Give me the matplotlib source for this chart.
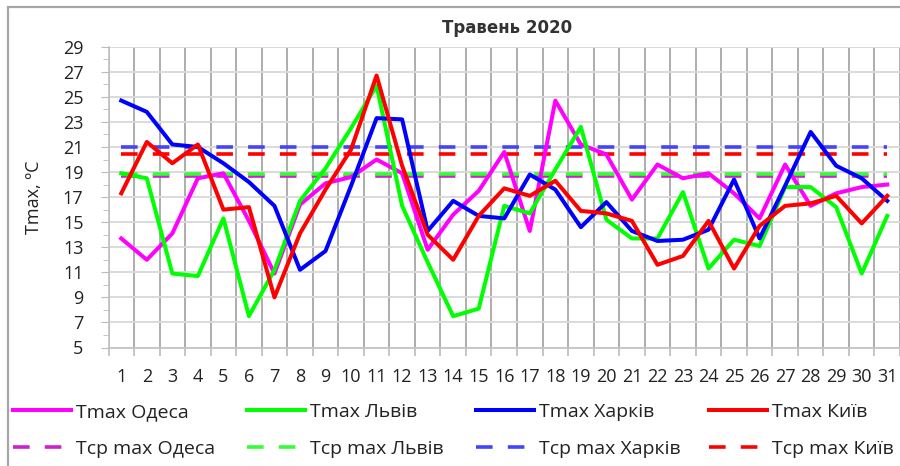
import numpy as np
import matplotlib.pyplot as plt
from matplotlib.ticker import FixedLocator

plt.rcParams['font.family'] = ['Open Sans', 'DejaVu Sans']

days = list(range(1, 32))

# daily maximum temperature, May 2020
odesa = [13.7, 12.0, 14.1, 18.5, 18.9, 15.1, 10.9, 16.4, 18.1, 18.6, 20.0, 18.9, 12.8, 15.6, 17.5, 20.6,
         14.3, 24.7, 21.2, 20.4, 16.8, 19.6, 18.5, 18.9, 17.3, 15.3, 19.6, 16.3, 17.3, 17.8, 18.0]
lviv = [18.9, 18.5, 10.9, 10.7, 15.3, 7.5, 11.2, 16.7, 19.3, 22.5, 25.9, 16.3, 11.8, 7.5, 8.1, 16.3,
        15.7, 19.2, 22.6, 15.2, 13.7, 13.7, 17.4, 11.3, 13.6, 13.1, 17.8, 17.8, 16.2, 10.9, 15.5]
kharkiv = [24.7, 23.8, 21.2, 21.0, 19.7, 18.2, 16.3, 11.2, 12.7, 17.9, 23.3, 23.2, 14.3, 16.7, 15.5, 15.3,
           18.8, 17.6, 14.6, 16.6, 14.3, 13.5, 13.6, 14.4, 18.4, 13.7, 17.9, 22.2, 19.5, 18.5, 16.7]
kyiv = [17.3, 21.4, 19.7, 21.2, 16.0, 16.2, 9.0, 14.1, 17.6, 20.8, 26.7, 19.5, 14.0, 12.0, 15.5, 17.7,
        17.1, 18.3, 15.9, 15.7, 15.1, 11.6, 12.3, 15.1, 11.3, 14.7, 16.3, 16.5, 17.1, 14.9, 17.1]

# climatic mean of Tmax
norm_odesa = 18.65
norm_lviv = 18.85
norm_kharkiv = 21.0
norm_kyiv = 20.45

cities = ['Одеса', 'Львів', 'Харків', 'Київ']
series = [odesa, lviv, kharkiv, kyiv]
norms = [norm_odesa, norm_lviv, norm_kharkiv, norm_kyiv]
colors = ['#FF00FF', '#00FF00', '#0000FF', '#FF0000']
dash_colors = ['#CC22CC', '#33FF33', '#4444FF', '#FF0000']

fig = plt.figure(figsize=(9, 4.66), dpi=100)
ax = fig.add_axes([108.5 / 900, 1 - 347.5 / 466, 791.5 / 900, 300.8 / 466])

handles = []
for name, vals, nv, c, dc in zip(cities, series, norms, colors, dash_colors):
    l1, = ax.plot(days, vals, color=c, lw=2.9, label='Tmax ' + name, zorder=3)
    l2, = ax.plot(days, [nv] * len(days), color=dc, lw=2.6, dashes=(4.6, 4.2),
                  label='Tср max ' + name, zorder=2)
    handles.append((l1, l2))

ax.set_xlim(0.5, 31.5)
ax.set_ylim(5, 29)
ax.set_xticks(days)
ax.set_xticklabels([str(d) for d in days])
ax.xaxis.set_minor_locator(FixedLocator(np.arange(0.5, 32, 1)))
ax.tick_params(axis='x', which='major', length=0, pad=15, labelsize=13, colors='#222222')
ax.tick_params(axis='x', which='minor', length=6, color='#BBBBBB', width=1.2)
ax.grid(axis='x', which='minor', color='#ADADAD', lw=1.4)

ax.set_yticks(np.arange(5, 30, 2))
ax.yaxis.set_minor_locator(FixedLocator(np.arange(6, 29, 2)))
ax.tick_params(axis='y', which='major', length=6, pad=12, labelsize=13, colors='#222222')
ax.tick_params(axis='y', which='major', color='#BBBBBB')
ax.tick_params(axis='y', which='minor', length=4, color='#BBBBBB')
ax.grid(axis='y', which='major', color='#DADADA', lw=1.4)
ax.set_axisbelow(True)

for s in ['top', 'right']:
    ax.spines[s].set_visible(False)
for s in ['left', 'bottom']:
    ax.spines[s].set_color('#C0C0C0')
    ax.spines[s].set_linewidth(1.2)

ax.set_ylabel('Tmax, ºC', fontsize=13, color='#222222')
ax.yaxis.set_label_coords(-0.083, 0.5)
fig.text(507 / 900, 1 - 28 / 466, 'Травень 2020', ha='center', va='center',
         fontsize=12, fontweight='bold', color='#333333', family='DejaVu Sans')

# legend: four columns, solid on the first row, dashed on the second
col_x = [13, 247, 476, 709]
for (l1, l2), x in zip(handles, col_x):
    lg = fig.legend([l1, l2], [l1.get_label(), l2.get_label()], loc='upper left',
                    bbox_to_anchor=(x / 900, 1 - 403 / 466), frameon=False, fontsize=14,
                    handlelength=3.0, handletextpad=0.25, labelspacing=0.98, borderpad=0,
                    borderaxespad=0)
    for t in lg.get_texts():
        t.set_color('#222222')

# outer chart frame
fig.patches.append(plt.Rectangle((8 / 900, -0.05), 1.0, 1 - 7 / 466 + 0.05, transform=fig.transFigure,
                                 fill=False, edgecolor='#A6A6A6', lw=1.6))

fig.savefig('out.png', dpi=100)
